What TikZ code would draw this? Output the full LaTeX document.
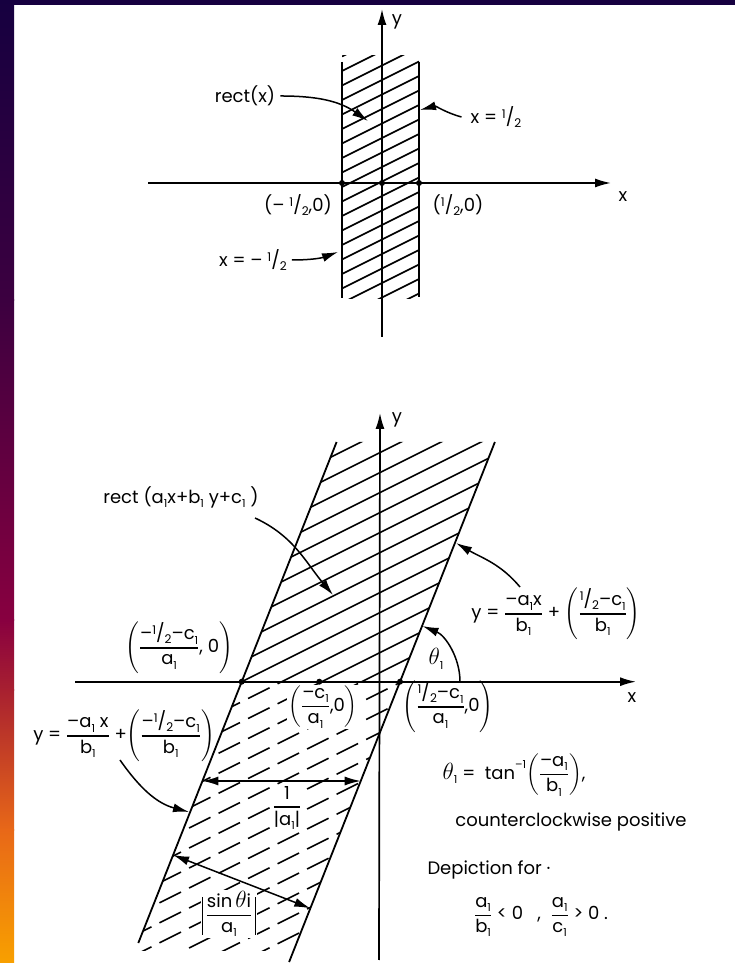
\RequirePackage{fix-cm}
\documentclass[tikz,border=0pt]{standalone}
\usepackage{amsmath}
\usepackage{graphicx}
\usepackage{fontspec}
\setmainfont{Poppins}
\usetikzlibrary{arrows.meta}
\definecolor{gA}{HTML}{160040}
\definecolor{gB}{HTML}{3C0040}
\definecolor{gC}{HTML}{880040}
\definecolor{gD}{HTML}{A82030}
\definecolor{gE}{HTML}{E86818}
\definecolor{gF}{HTML}{F8A000}
\newcommand\fs{\fontsize{18}{21}\selectfont}
\newcommand\lo[1]{\raisebox{-0.45ex}{\fontsize{11}{11}\selectfont #1}}
\newcommand\hf{\raisebox{0.55ex}{\fontsize{12}{12}\selectfont 1}/\raisebox{-0.35ex}{\fontsize{12}{12}\selectfont 2}}
\newcommand\fr[2]{\genfrac{}{}{1.1pt}{0}{\text{#1}}{\text{#2}}}
\newcommand\thet{\scalebox{1.3}{$\theta$}}
\newcommand\vbar{\rule[-15pt]{1.2pt}{38pt}}
\begin{document}
\begin{tikzpicture}[x=1pt,y=1pt,
  ln/.style={line width=1.8pt},
  hatch/.style={line width=1.6pt},
  dhatch/.style={line width=1.6pt,dash pattern=on 24pt off 9pt},
  arr/.style={line width=1.5pt,-{Latex[length=16pt,width=9pt]}},
  darr/.style={line width=1.5pt,{Latex[length=16pt,width=9pt]}-{Latex[length=16pt,width=9pt]}},
  axis/.style={line width=1.7pt,-{Latex[length=16pt,width=9pt]}},
  lbl/.style={font=\fs,inner sep=1pt},
  wlbl/.style={font=\fs,inner sep=1pt,fill=white},
  dot/.style={circle,fill,inner sep=0pt,minimum size=6pt}]
\useasboundingbox (0,0) rectangle (735,963);
\fill[white] (0,0) rectangle (735,963);
% frame
\fill[gA] (0,958) rectangle (735,963);
\shade[top color=gA,bottom color=gB] (0,662.5) rectangle (14,963);
\shade[top color=gB,bottom color=gC] (0,342.5) rectangle (14,663);
\shade[top color=gC,bottom color=gD] (0,272.5) rectangle (14,343);
\shade[top color=gD,bottom color=gE] (0,132.5) rectangle (14,273);
\shade[top color=gE,bottom color=gF] (0,0) rectangle (14,133);

% ===== top diagram =====
\begin{scope}
\clip (342,664) rectangle (419,907);
\foreach \k in {-2,...,18} \draw[hatch] (342,{892-14.5*\k}) -- ++(77,38.5);
\end{scope}
\coordinate (tl1) at (342,901); \coordinate (tl2) at (342,665);
\coordinate (tr1) at (419,901); \coordinate (tr2) at (419,666);
\draw[ln] (tl1) -- (tl2);
\draw[ln] (tr1) -- (tr2);
\coordinate (txa) at (148,780); \coordinate (txb) at (611,780);
\coordinate (tya) at (382,626); \coordinate (tyb) at (382,954);
\draw[axis] (txa) -- (txb);
\draw[axis] (tya) -- (tyb);
\node[lbl] (tyl) at (397,941) {y};
\node[lbl] (txl) at (623,766) {x};
\node[dot] (td1) at (342,780) {};
\node[dot] (td2) at (382,780) {};
\node[dot] (td3) at (419,780) {};
\node[lbl] (rectx) at (245,867) {rect(x)};
\coordinate (rectxT) at (368,842);
\draw[arr] ([xshift=4pt]rectx.east) to[out=0,in=145] (rectxT);
\node[lbl] (xh) at (496,846) {x = \hf};
\coordinate (xhT) at (420,853);
\draw[arr] ([xshift=-8pt]xh.west) to[out=165,in=15] (xhT);
\node[lbl] (pm) at (298,758) {(– \hf,0)};
\node[lbl] (pp) at (458,758) {(\hf,0)};
\node[lbl] (xmh) at (253,703) {x = – \hf};
\coordinate (xmhT) at (338,711);
\draw[arr] ([xshift=4pt]xmh.east) to[out=0,in=200] (xmhT);

% ===== bottom diagram =====
\begin{scope}
\clip (336.6,521) -- (494.9,521) -- (400,281.3) -- (241.7,281.3) -- cycle;
\foreach \k in {-12,...,16} \draw[hatch] (130,{225.45-20*\k}) -- (500,{410.45-20*\k});
\end{scope}
\begin{scope}
\clip (241.7,281.3) -- (400,281.3) -- (293.8,12) -- (135.5,12) -- cycle;
\foreach \k in {-12,...,16} \draw[dhatch] (130,{225.45-20*\k}) -- (500,{410.45-20*\k});
\end{scope}
\coordinate (bl1) at (336.6,521); \coordinate (bl2) at (138.3,20);
\coordinate (br1) at (494.9,521); \coordinate (br2) at (289.1,1);
\draw[ln] (bl1) -- (bl2);
\draw[ln] (br1) -- (br2);
\coordinate (bxa) at (75,281.3); \coordinate (bxb) at (636,281.3);
\coordinate (bya) at (379,3); \coordinate (byb) at (380,550);
\draw[axis] (bxa) -- (bxb);
\draw[axis] (bya) -- (byb);
\node[lbl] (byl) at (397,543) {y};
\node[lbl] (bxl) at (632,265) {x};
\node[dot] (bd1) at (241.7,281.3) {};
\node[dot] (bd2) at (319.3,281.3) {};
\node[dot] (bd3) at (400,281.3) {};
\node[lbl] (rect) at (181,466) {rect (a\lo1x+b\lo1 y+c\lo1 )};
\coordinate (rectT) at (333,368);
\draw[arr] (255,445) to[out=-25,in=130] (rectT);
\node[lbl] (pl) at (179,315) {$\left(\fr{–\hf–c\lo1}{a\lo1}\text{, 0}\right)$};
\node[wlbl] (pc) at (323,256) {$\left(\fr{–c\lo1}{a\lo1}\text{,0}\right)$};
\node[lbl] (pr) at (448,256) {$\left(\fr{\hf–c\lo1}{a\lo1}\text{,0}\right)$};
\node[lbl] (th) at (436,304) {\thet\lo1};
\coordinate (thS) at (460,281.3);
\draw[arr] (thS) arc[start angle=0,end angle=68,radius=60];
\node[lbl] (eqr) at (556,349) {y = $\fr{–a\lo1x}{b\lo1}$ + $\left(\fr{\hf–c\lo1}{b\lo1}\right)$};
\coordinate (eqrT) at (456,420);
\draw[arr] (520,376) to[out=130,in=-30] (eqrT);
\node[lbl] (eql) at (124,227) {y = $\fr{–a\lo1 x}{b\lo1}$ +$\left(\fr{–\hf–c\lo1}{b\lo1}\right)$};
\coordinate (eqlT) at (189,151);
\draw[arr] (120,203) to[out=-55,in=165] (eqlT);
\coordinate (wa) at (202.4,182); \coordinate (wb) at (360.7,182);
\draw[darr] (wa) -- (wb);
\node[wlbl] (wl) at (287,155) {$\fr{1}{|a\lo1|}$};
\coordinate (sa) at (173.1,108); \coordinate (sb) at (310.3,54.7);
\draw[darr] (sa) -- (sb);
\node[wlbl] (sl) at (229,49) {\vbar\,$\fr{sin\,\thet i}{a\lo1}$\,\vbar};
\node[lbl] (tan) at (514,188) {\thet\lo1 = \ tan\raisebox{1.1ex}{\fontsize{11}{11}\selectfont –1}$\left(\fr{–a\lo1}{b\lo1}\right)$,};
\node[lbl] (ccw) at (571,141) {counterclockwise positive};
\node[lbl] (dep) at (489,93) {Depiction for ·};
\node[lbl] (cond) at (541,46) {$\fr{a\lo1}{b\lo1}$ < 0 \ \ , \ $\fr{a\lo1}{c\lo1}$ > 0 .};
\end{tikzpicture}
\end{document}
